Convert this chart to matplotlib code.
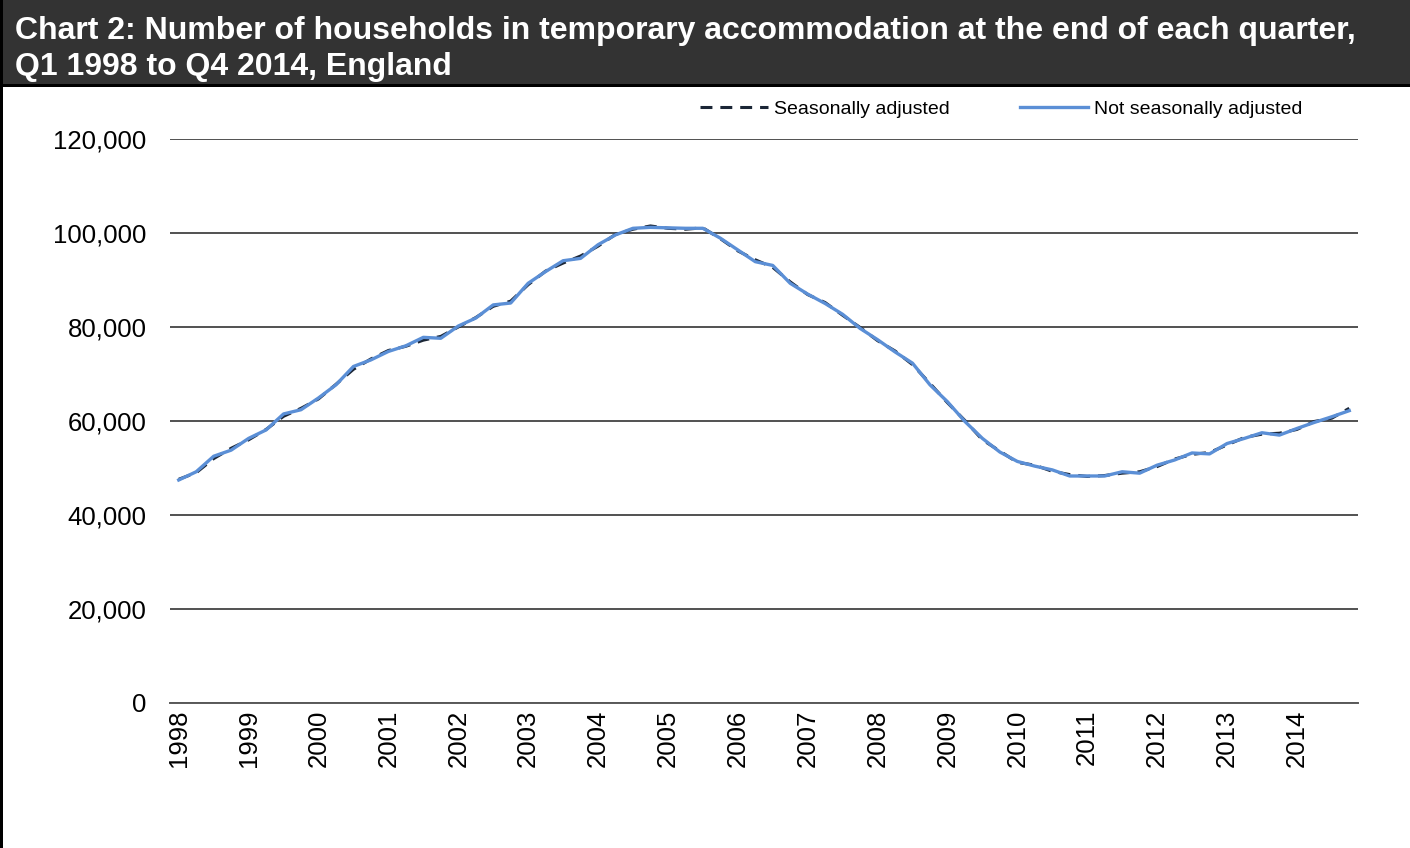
import matplotlib
matplotlib.use("Agg")
import matplotlib.pyplot as plt
from matplotlib.patches import Rectangle
from matplotlib.ticker import FuncFormatter

plt.rcParams["font.family"] = ["Liberation Sans", "DejaVu Sans"]

# Quarters Q1 1998 .. Q4 2014
years = list(range(1998, 2015))
quarters = [f"{y} Q{q}" for y in years for q in range(1, 5)]

# Not seasonally adjusted (households)
not_sa = [
    47450, 49200, 52500, 53800, 56300, 58100, 61500, 62400,
    64900, 67700, 71600, 73000, 74800, 76000, 77800, 77600,
    80200, 81900, 84700, 85100, 89300, 91800, 94100, 94600,
    97500, 99600, 101000, 101200, 101100, 101000, 101000, 98900,
    96400, 93900, 93100, 89300, 87000, 85000, 82700, 79700,
    77300, 74700, 72300, 67700, 64100, 59900, 56300, 53400,
    51400, 50400, 49600, 48300, 48300, 48300, 49200, 48900,
    50600, 51700, 53200, 53000, 55200, 56300, 57500, 57000,
    58400, 59700, 60900, 62200,
]

# Seasonally adjusted (households)
sa = [
    47600, 49000, 52000, 54200, 56000, 58200, 61000, 62700,
    64700, 67800, 71000, 73200, 75000, 75900, 77200, 78000,
    80000, 82000, 84400, 85500, 89000, 91900, 93600, 95100,
    97200, 99700, 100800, 101500, 101000, 100800, 101100, 98800,
    96200, 94300, 92700, 89600, 86900, 85200, 82500, 79900,
    77100, 74900, 72000, 68000, 63900, 60100, 56000, 53600,
    51200, 50600, 49300, 48600, 48200, 48400, 48900, 49200,
    50300, 51900, 52900, 53300, 54900, 56500, 57200, 57400,
    58200, 59900, 60600, 62700,
]

W, H = 1410, 848
fig = plt.figure(figsize=(W / 100, H / 100), dpi=100)

# header band and frame
fig.add_artist(Rectangle((0, 1 - 84 / H), 1, 84 / H, transform=fig.transFigure,
                         facecolor="#333333", edgecolor="none", zorder=0))
fig.add_artist(Rectangle((0, 1 - 87 / H), 1, 3 / H, transform=fig.transFigure,
                         facecolor="black", edgecolor="none", zorder=0))
fig.add_artist(Rectangle((0, 0), 3 / W, 1, transform=fig.transFigure,
                         facecolor="black", edgecolor="none", zorder=0))

fig.text(15 / W, 1 - 16 / H,
         "Chart 2: Number of households in temporary accommodation at the end of each quarter,\n"
         "Q1 1998 to Q4 2014, England",
         color="white", fontsize=23.0, fontweight="bold", va="top", ha="left",
         linespacing=1.25)

ax = fig.add_axes([170 / W, 1 - 703 / H, (1358 - 170) / W, (703 - 139) / H])

x = list(range(len(quarters)))
ax.plot(x, sa, color="#1b2636", lw=2.2, dashes=(3.9, 2.6),
        label="Seasonally adjusted", zorder=3)
ax.plot(x, not_sa, color="#5b8fd6", lw=2.4,
        label="Not seasonally adjusted", zorder=4)

ax.set_xlim(-0.5, len(quarters) - 0.5)
ax.set_ylim(0, 120000)
ax.set_yticks(range(0, 120001, 20000))
ax.yaxis.set_major_formatter(FuncFormatter(lambda v, p: f"{int(v):,}"))
ax.set_xticks(x[::4])
ax.set_xticklabels([str(y) for y in years], rotation=90)
ax.tick_params(axis="both", length=0, labelsize=18.5, colors="black")
ax.tick_params(axis="y", pad=17)
ax.tick_params(axis="x", pad=5)

ax.grid(axis="y", color="#333333", lw=1.2)
ax.set_axisbelow(True)
for s in ["top", "right", "left"]:
    ax.spines[s].set_visible(False)
ax.spines["bottom"].set_color("#5a5a5a")
ax.spines["bottom"].set_linewidth(1.4)

fig.legend(loc="center", bbox_to_anchor=(1001 / W, 1 - 109 / H), ncol=2,
           frameon=False, fontsize=14, handlelength=3.5, handletextpad=0.3,
           columnspacing=3.6)

fig.savefig("out.png", dpi=100)
